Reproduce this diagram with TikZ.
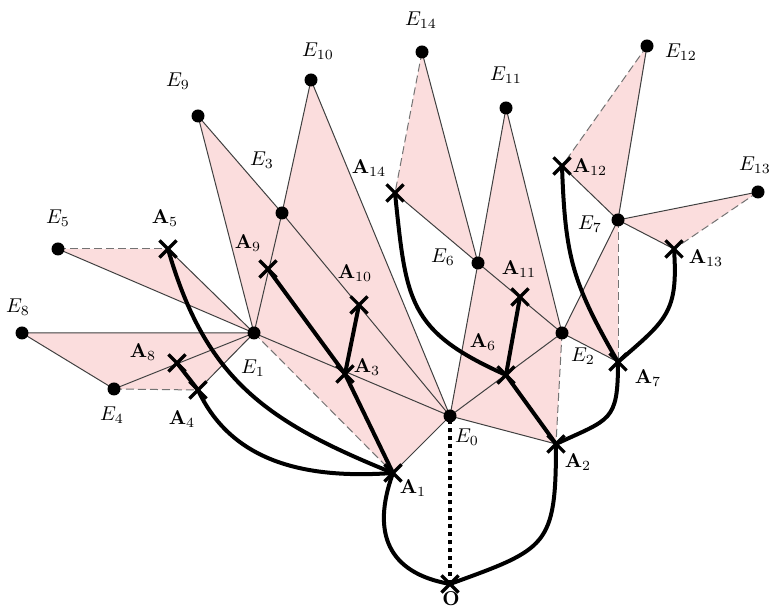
\documentclass[tikz,border=0pt]{standalone}
\usepackage{amsmath}
\usepackage{amssymb}
\usepackage{tikz}
\usetikzlibrary{shapes, positioning}
\usetikzlibrary{backgrounds}
\definecolor{facepink}{RGB}{251,221,221}

\begin{document}
\begin{tikzpicture}[x=0.5pt, y=0.5pt,
		edot/.style={circle, fill=black, inner sep=0pt, minimum size=6.5pt},
		across/.style={cross out, draw=black, line width=1.6pt, inner sep=0pt, minimum size=7pt},
		face/.style={fill=facepink},
		edge/.style={draw=black!75, line width=0.5pt},
		dashedge/.style={draw=black!55, line width=0.5pt, dash pattern=on 4pt off 2pt},
		tree/.style={draw=black, line width=2pt},
		elab/.style={inner sep=0pt},
		alab/.style={inner sep=0pt}]
	\useasboundingbox (0,0) rectangle (772,609);
	% vertices
	\node[edot] (E0) at (450,193) {};
	\node[edot] (E1) at (254,276) {};
	\node[edot] (E2) at (562,276) {};
	\node[edot] (E3) at (282,396) {};
	\node[edot] (E4) at (114,220) {};
	\node[edot] (E5) at (58,360) {};
	\node[edot] (E6) at (478,346) {};
	\node[edot] (E7) at (618,389) {};
	\node[edot] (E8) at (22,276) {};
	\node[edot] (E9) at (198,493) {};
	\node[edot] (E10) at (311,529) {};
	\node[edot] (E11) at (506,501) {};
	\node[edot] (E12) at (647,563) {};
	\node[edot] (E13) at (758,417) {};
	\node[edot] (E14) at (422,557) {};
	% crossings
	\node[across] (O) at (450,25) {};
	\node[across] (A1) at (393,136) {};
	\node[across] (A2) at (556,165) {};
	\node[across] (A3) at (345,235) {};
	\node[across] (A4) at (198,219) {};
	\node[across] (A5) at (168,360) {};
	\node[across] (A6) at (506,234) {};
	\node[across] (A7) at (618,247) {};
	\node[across] (A8) at (177,246) {};
	\node[across] (A9) at (268,340) {};
	\node[across] (A10) at (359,304) {};
	\node[across] (A11) at (520,312) {};
	\node[across] (A12) at (562,443) {};
	\node[across] (A13) at (674,360) {};
	\node[across] (A14) at (395,416) {};
	% labels
	\node[elab] (lE0) at (467,172) {$E_0$};
	\node[elab] (lE1) at (253,241) {$E_1$};
	\node[elab] (lE2) at (583,253) {$E_2$};
	\node[elab] (lE3) at (262,449) {$E_3$};
	\node[elab] (lE4) at (112,194) {$E_4$};
	\node[elab] (lE5) at (58,391) {$E_5$};
	\node[elab] (lE6) at (443,352) {$E_6$};
	\node[elab] (lE7) at (590,385) {$E_7$};
	\node[elab] (lE8) at (18,302) {$E_8$};
	\node[elab] (lE9) at (178,528) {$E_9$};
	\node[elab] (lE10) at (318,558) {$E_{10}$};
	\node[elab] (lE11) at (506,534) {$E_{11}$};
	\node[elab] (lE12) at (681,557) {$E_{12}$};
	\node[elab] (lE13) at (755,444) {$E_{13}$};
	\node[elab] (lE14) at (421,589) {$E_{14}$};
	\node[alab] (lO) at (451,10) {$\mathbf{O}$};
	\node[alab] (lA1) at (413,121) {$\mathbf{A}_1$};
	\node[alab] (lA2) at (578,147) {$\mathbf{A}_2$};
	\node[alab] (lA3) at (367,242) {$\mathbf{A}_3$};
	\node[alab] (lA4) at (182,190) {$\mathbf{A}_4$};
	\node[alab] (lA5) at (165,391) {$\mathbf{A}_5$};
	\node[alab] (lA6) at (483,267) {$\mathbf{A}_6$};
	\node[alab] (lA7) at (648,231) {$\mathbf{A}_7$};
	\node[alab] (lA8) at (143,257) {$\mathbf{A}_8$};
	\node[alab] (lA9) at (248,366) {$\mathbf{A}_9$};
	\node[alab] (lA10) at (355,336) {$\mathbf{A}_{10}$};
	\node[alab] (lA11) at (519,340) {$\mathbf{A}_{11}$};
	\node[alab] (lA12) at (590,442) {$\mathbf{A}_{12}$};
	\node[alab] (lA13) at (706,351) {$\mathbf{A}_{13}$};
	\node[alab] (lA14) at (369,441) {$\mathbf{A}_{14}$};
	\begin{scope}[on background layer]
		% faces
		\fill[face] (E5.center) -- (A5.center) -- (E1.center) -- cycle;
		\fill[face] (E8.center) -- (E1.center) -- (E4.center) -- cycle;
		\fill[face] (E4.center) -- (A4.center) -- (E1.center) -- cycle;
		\fill[face] (E9.center) -- (E3.center) -- (E1.center) -- cycle;
		\fill[face] (E3.center) -- (E1.center) -- (E0.center) -- cycle;
		\fill[face] (E10.center) -- (E3.center) -- (E0.center) -- cycle;
		\fill[face] (E1.center) -- (A1.center) -- (E0.center) -- cycle;
		\fill[face] (E14.center) -- (A14.center) -- (E6.center) -- cycle;
		\fill[face] (E11.center) -- (E6.center) -- (E2.center) -- cycle;
		\fill[face] (E6.center) -- (E0.center) -- (E2.center) -- cycle;
		\fill[face] (E0.center) -- (A2.center) -- (E2.center) -- cycle;
		\fill[face] (E12.center) -- (A12.center) -- (E7.center) -- cycle;
		\fill[face] (E7.center) -- (E2.center) -- (A7.center) -- cycle;
		\fill[face] (E7.center) -- (E13.center) -- (A13.center) -- cycle;
		% edges
		\draw[edge] (E5.center) -- (E1.center) -- (A5.center);
		\draw[edge] (E4.center) -- (E8.center) -- (E1.center) -- (E4.center);
		\draw[edge] (A4.center) -- (E1.center);
		\draw[edge] (E1.center) -- (E9.center) -- (E3.center) -- (E1.center);
		\draw[edge] (E3.center) -- (E10.center) -- (E0.center) -- (E3.center);
		\draw[edge] (E1.center) -- (E0.center) -- (A1.center);
		\draw[edge] (A14.center) -- (E6.center) -- (E14.center);
		\draw[edge] (E0.center) -- (E6.center) -- (E11.center) -- (E2.center) -- (E6.center);
		\draw[edge] (E0.center) -- (E2.center) -- (E7.center);
		\draw[edge] (E0.center) -- (A2.center);
		\draw[edge] (E2.center) -- (A7.center);
		\draw[edge] (A12.center) -- (E7.center) -- (E12.center);
		\draw[edge] (A13.center) -- (E7.center) -- (E13.center);
		\draw[dashedge] (E5.center) -- (A5.center);
		\draw[dashedge] (E4.center) -- (A4.center);
		\draw[dashedge] (E1.center) -- (A1.center);
		\draw[dashedge] (E14.center) -- (A14.center);
		\draw[dashedge] (E2.center) -- (A2.center);
		\draw[dashedge] (E12.center) -- (A12.center);
		\draw[dashedge] (E7.center) -- (A7.center);
		\draw[dashedge] (E13.center) -- (A13.center);
		% tree
		\draw[black, line width=2pt, dash pattern=on 2pt off 2pt] (O.center) -- (E0.center);
		\draw[tree] (O.center) to[out=170, in=-110, looseness=1.3] (A1.center);
		\draw[tree] (O.center) to[out=20, in=-90, looseness=1.5] (A2.center);
		\draw[tree] (A1.center) to[out=184, in=-65] (A4.center);
		\draw[tree] (A1.center) to[out=158, in=-74, looseness=1.1] (A5.center);
		\draw[tree] (A1.center) -- (A3.center);
		\draw[tree] (A9.center) -- (A3.center) -- (A10.center);
		\draw[tree] (A4.center) -- (A8.center);
		\draw[tree] (A2.center) -- (A6.center) -- (A11.center);
		\draw[tree] (A6.center) to[out=156, in=-84, looseness=1.3] (A14.center);
		\draw[tree] (A2.center) to[out=25, in=-90, looseness=1.5] (A7.center);
		\draw[tree] (A7.center) to[out=120, in=-88, looseness=1.15] (A12.center);
		\draw[tree] (A7.center) to[out=41, in=-86, looseness=1.3] (A13.center);
	\end{scope}
\end{tikzpicture}
\end{document}
